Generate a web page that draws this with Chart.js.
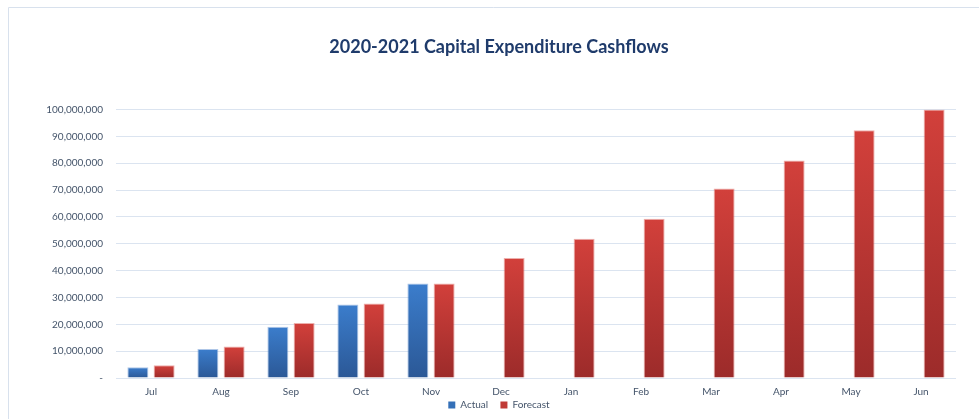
<!DOCTYPE html>
<html>
<head>
<meta charset="utf-8">
<script src="https://cdn.jsdelivr.net/npm/chart.js@4"></script>
<style>
  html, body { margin: 0; padding: 0; background: #ffffff; }
  #wrap { width: 979px; height: 419px; position: relative; }
</style>
</head>
<body>
<div id="wrap"><canvas id="c" width="979" height="419"></canvas></div>
<script>
const categories = ['Jul','Aug','Sep','Oct','Nov','Dec','Jan','Feb','Mar','Apr','May','Jun'];
const actualValues = [4000000, 10800000, 19100000, 27400000, 35200000, null, null, null, null, null, null, null];
const forecastValues = [4750000, 11700000, 20500000, 27800000, 35200000, 44700000, 51900000, 59300000, 70600000, 81000000, 92300000, 100000000];
const yTickLabels = ['-', '10,000,000', '20,000,000', '30,000,000', '40,000,000', '50,000,000', '60,000,000', '70,000,000', '80,000,000', '90,000,000', '100,000,000'];
const titleText = '2020-2021 Capital Expenditure Cashflows';

const FONT = 'Lato, "Open Sans", sans-serif';
const TEXT = '#44546a';

function barGradient(topColor, bottomColor, solid) {
  return function (ctx) {
    const chart = ctx.chart;
    if (!chart.chartArea || ctx.raw == null) return solid;
    const y = chart.scales.y;
    const yTop = y.getPixelForValue(ctx.raw);
    const yBot = y.getPixelForValue(0);
    if (!isFinite(yTop) || !isFinite(yBot) || yTop === yBot) return solid;
    const g = chart.ctx.createLinearGradient(0, yTop, 0, yBot);
    g.addColorStop(0, topColor);
    g.addColorStop(1, bottomColor);
    return g;
  };
}

const framePlugin = {
  id: 'frame',
  beforeDraw(chart) {
    const c = chart.ctx;
    c.save();
    c.strokeStyle = '#d8e1ed';
    c.lineWidth = 1;
    c.beginPath();
    c.moveTo(8.5, chart.height);
    c.lineTo(8.5, 7.5);
    c.lineTo(chart.width, 7.5);
    c.stroke();
    c.restore();
  }
};

new Chart(document.getElementById('c'), {
  type: 'bar',
  data: {
    labels: categories,
    datasets: [
      {
        label: 'Actual',
        data: actualValues,
        backgroundColor: barGradient('#3b7dcc', '#2b5896', '#3470b8'),
        borderColor: 'rgba(120,160,215,0.6)',
        borderWidth: 1,
        categoryPercentage: 0.75,
        barPercentage: 0.8
      },
      {
        label: 'Forecast',
        data: forecastValues,
        backgroundColor: barGradient('#d2403b', '#9c2b2a', '#c03a36'),
        borderColor: 'rgba(225,120,115,0.6)',
        borderWidth: 1,
        categoryPercentage: 0.75,
        barPercentage: 0.8
      }
    ]
  },
  options: {
    responsive: false,
    animation: false,
    layout: { padding: { left: 42, right: 23, top: 0, bottom: -1 } },
    plugins: {
      title: {
        display: true,
        text: titleText,
        color: '#1f3b6b',
        font: { family: FONT, size: 18, weight: 'bold' },
        padding: { top: 36, bottom: 52 }
      },
      legend: {
        display: true,
        position: 'bottom',
        labels: {
          color: TEXT,
          font: { family: FONT, size: 10 },
          boxWidth: 7,
          boxHeight: 7,
          padding: 2,
          generateLabels(chart) {
            const items = Chart.defaults.plugins.legend.labels.generateLabels(chart);
            items.forEach((it, i) => {
              it.fillStyle = i === 0 ? '#3470b8' : '#c03a36';
              it.strokeStyle = it.fillStyle;
              it.lineWidth = 0;
              if (i === 0) it.text = it.text + '    ';
            });
            return items;
          }
        }
      },
      tooltip: { enabled: false }
    },
    scales: {
      x: {
        afterFit(scale) { scale.height = 20; },
        grid: { display: false, drawTicks: false },
        border: { display: false },
        ticks: { color: TEXT, font: { family: FONT, size: 10 }, padding: 8 }
      },
      y: {
        min: 0,
        max: 100000000,
        afterFit(scale) { scale.width = 74; },
        grid: { color: '#dbe4f0', lineWidth: 1, drawTicks: false },
        border: { display: false },
        ticks: {
          stepSize: 10000000,
          color: TEXT,
          font: { family: FONT, size: 10 },
          padding: 13,
          callback: function (value, index) { return yTickLabels[index]; }
        }
      }
    }
  },
  plugins: [framePlugin]
});
</script>
</body>
</html>
